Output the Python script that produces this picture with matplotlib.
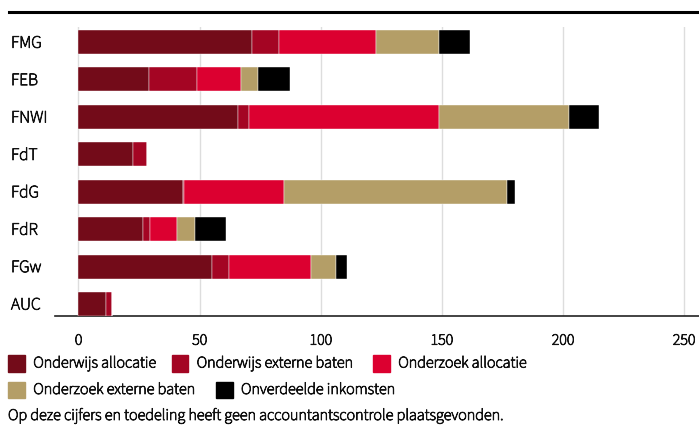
import matplotlib.pyplot as plt
import matplotlib.patheffects as pe
from matplotlib.patches import Rectangle
from matplotlib.lines import Line2D

plt.rcParams['font.family'] = ['Source Sans 3', 'DejaVu Sans']
plt.rcParams['font.weight'] = 'normal'

# Faculties, top to bottom
faculties = ['FMG', 'FEB', 'FNWI', 'FdT', 'FdG', 'FdR', 'FGw', 'AUC']

# Income per category (miljoen euro)
onderwijs_allocatie = [71.8, 29.2, 66.0, 22.6, 43.0, 26.8, 55.2, 11.4]
onderwijs_extern = [11.1, 19.9, 4.5, 5.7, 0.6, 2.8, 7.1, 2.3]
onderzoek_allocatie = [39.9, 17.9, 78.2, 0.0, 41.4, 11.1, 33.7, 0.0]
onderzoek_extern = [25.9, 7.2, 53.8, 0.0, 92.0, 7.3, 10.3, 0.0]
onverdeeld = [12.9, 13.0, 12.4, 0.0, 3.2, 12.8, 4.7, 0.0]

series_names = ['Onderwijs allocatie', 'Onderwijs externe baten', 'Onderzoek allocatie',
                'Onderzoek externe baten', 'Onverdeelde inkomsten']
series = [onderwijs_allocatie, onderwijs_extern, onderzoek_allocatie, onderzoek_extern, onverdeeld]
colors = ['#730b19', '#a40523', '#dc0030', '#b49e67', '#000000']
text_color = '#111111'

# the variable font comes out thin, so give the glyphs a light outline
bold_fx = [pe.withStroke(linewidth=0.6, foreground=text_color)]

W, H = 699, 426
fig = plt.figure(figsize=(W / 100, H / 100), dpi=100)


def fx(px):
    return px / W


def fy(py):
    return 1 - py / H


ax = fig.add_axes([fx(55), fy(316), fx(699) - fx(55), fy(27) - fy(316)])

ypos = list(range(len(faculties)))
left = [0.0] * len(faculties)
for vals, col in zip(series, colors):
    ax.barh(ypos, vals, left=left, height=0.64, color=col,
            edgecolor='white', linewidth=0.3, zorder=3)
    left = [l + v for l, v in zip(left, vals)]

ax.set_xlim(-9.7, 256.2)
ax.set_ylim(len(faculties) - 1 + 0.32, -0.4)
ax.set_xticks([0, 50, 100, 150, 200, 250])
ax.grid(axis='x', color='#dddddd', linewidth=1, zorder=0)
ax.set_yticks([])
ax.tick_params(axis='x', length=0, pad=12, labelsize=11.5, colors=text_color)
for lbl in ax.get_xticklabels():
    lbl.set_path_effects(bold_fx)
for s in ['top', 'right', 'left']:
    ax.spines[s].set_visible(False)
ax.spines['bottom'].set_color('#222222')
ax.spines['bottom'].set_linewidth(1.2)

# faculty names at the left edge
for i, name in enumerate(faculties):
    yc = 43 + i * 37.4
    fig.text(fx(11), fy(yc), name, fontsize=12.5, ha='left', va='center',
             color=text_color, path_effects=bold_fx)

# rule across the top
fig.add_artist(Line2D([fx(9), fx(699)], [fy(11.5), fy(11.5)], color='black', linewidth=2.2))

# legend: (series index, square left edge, row centre) in pixels
legend_items = [
    (0, 8.3, 363.5), (1, 171.7, 363.5), (2, 373.3, 363.5),
    (3, 8.3, 390), (4, 216, 390),
]
sq = 16.7
for idx, x0, yc in legend_items:
    fig.add_artist(Rectangle((fx(x0), fy(yc + sq / 2)), fx(sq), sq / H,
                             color=colors[idx], transform=fig.transFigure))
    fig.text(fx(x0 + 25), fy(yc), series_names[idx], fontsize=11.6,
             ha='left', va='center', color=text_color, path_effects=bold_fx)

fig.text(fx(8), fy(416), 'Op deze cijfers en toedeling heeft geen accountantscontrole plaatsgevonden.',
         fontsize=11.6, ha='left', va='center', color=text_color, path_effects=bold_fx)

fig.savefig('out.png', dpi=100)
